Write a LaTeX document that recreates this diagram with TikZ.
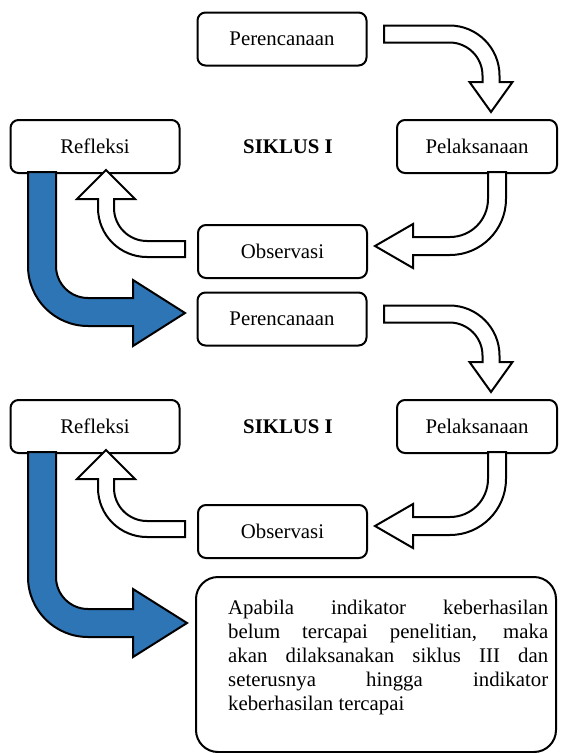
\documentclass[tikz,border=0pt]{standalone}
\usepackage{fontspec}
\setmainfont{Liberation Serif}
\definecolor{arrowblue}{HTML}{2E75B6}
\begin{document}
\begin{tikzpicture}[x=1pt,y=-1pt,
  stagebox/.style={draw, line width=2pt, rounded corners=8pt, minimum width=169pt, minimum height=53pt, inner sep=0pt, font=\fontsize{20.8}{24}\selectfont},
  cyclelabel/.style={font=\fontsize{20.8}{24}\selectfont\bfseries, inner sep=0pt},
  whitearrow/.style={draw, fill=white, line width=2pt, line join=miter},
  bluearrow/.style={draw, fill=arrowblue, line width=2pt, line join=miter}]
\useasboundingbox (0,0) rectangle (566,753);

% cycle 1
\node[stagebox] (ren1) at (282,39) {Perencanaan};
\node[stagebox] (ref1) at (95,146.5) {Refleksi};
\node[stagebox, minimum width=160pt] (pel1) at (477,146.5) {Pelaksanaan};
\node[stagebox] (obs1) at (282.5,251.5) {Observasi};
\node[cyclelabel] (sik1) at (288,147) {SIKLUS I};
% cycle 2
\node[stagebox] (ren2) at (282,319) {Perencanaan};
\node[stagebox] (ref2) at (95,426.5) {Refleksi};
\node[stagebox, minimum width=160pt] (pel2) at (477,426.5) {Pelaksanaan};
\node[stagebox] (obs2) at (282.5,531.5) {Observasi};
\node[cyclelabel] (sik2) at (288,427) {SIKLUS I};

% final box
\node[draw, line width=2pt, rounded corners=22pt, minimum width=360pt, minimum height=175pt, inner sep=0pt] (finalbox) at (376,664.5) {};
\node[anchor=base west, inner sep=0pt] (finaltext) at (228,614) {\parbox[t]{320pt}{\fontsize{20.8}{24.2}\selectfont
\makebox[320pt][s]{Apabila indikator keberhasilan}\\
\makebox[320pt][s]{belum tercapai penelitian, maka}\\
\makebox[320pt][s]{akan dilaksanakan siklus III dan}\\
\makebox[320pt][s]{seterusnya hingga indikator}\\
keberhasilan tercapai}};

% white block arrows (both cycles)
\foreach \dy in {0,280} {
\begin{scope}[shift={(0,\dy)}]
% Perencanaan -> Pelaksanaan
\draw[whitearrow] (384,25.5) -- (449.5,25.5) .. controls (477.1,25.5) and (499.5,47.9) .. (499.5,75.5)
  -- (499.5,82) -- (512.5,82) -- (491,112) -- (469.5,82) -- (482.5,82) -- (482.5,75.5)
  .. controls (482.5,57.3) and (467.7,42.5) .. (449.5,42.5) -- (384,42.5) -- cycle;
% Pelaksanaan -> Observasi
\draw[whitearrow] (488,172) -- (506,172) -- (506,199) .. controls (506,229.9) and (480.9,255) .. (450,255)
  -- (413,255) -- (413,268) -- (375,246) -- (413,224) -- (413,237) -- (450,237)
  .. controls (471,237) and (488,220) .. (488,199) -- cycle;
% Observasi -> Refleksi
\draw[whitearrow] (185,241) -- (185,257) -- (147,257) .. controls (119.9,257) and (98,235.1) .. (98,208)
  -- (98,199) -- (77,199) -- (106,170) -- (135,199) -- (114,199) -- (114,208)
  .. controls (114,226.2) and (128.8,241) .. (147,241) -- cycle;
\end{scope}
}

% blue block arrows
\draw[bluearrow] (28,172) -- (56,172) -- (56,266) .. controls (56,283.7) and (70.3,298) .. (88,298)
  -- (133,298) -- (133,280) -- (185,313) -- (133,346) -- (133,326) -- (88,326)
  .. controls (54.9,326) and (28,299.1) .. (28,266) -- cycle;
\draw[bluearrow] (28,452) -- (56,452) -- (56,577) .. controls (56,594.7) and (70.3,609) .. (88,609)
  -- (133,609) -- (133,589) -- (187,623) -- (133,657) -- (133,637) -- (88,637)
  .. controls (54.9,637) and (28,610.1) .. (28,577) -- cycle;
\end{tikzpicture}
\end{document}
